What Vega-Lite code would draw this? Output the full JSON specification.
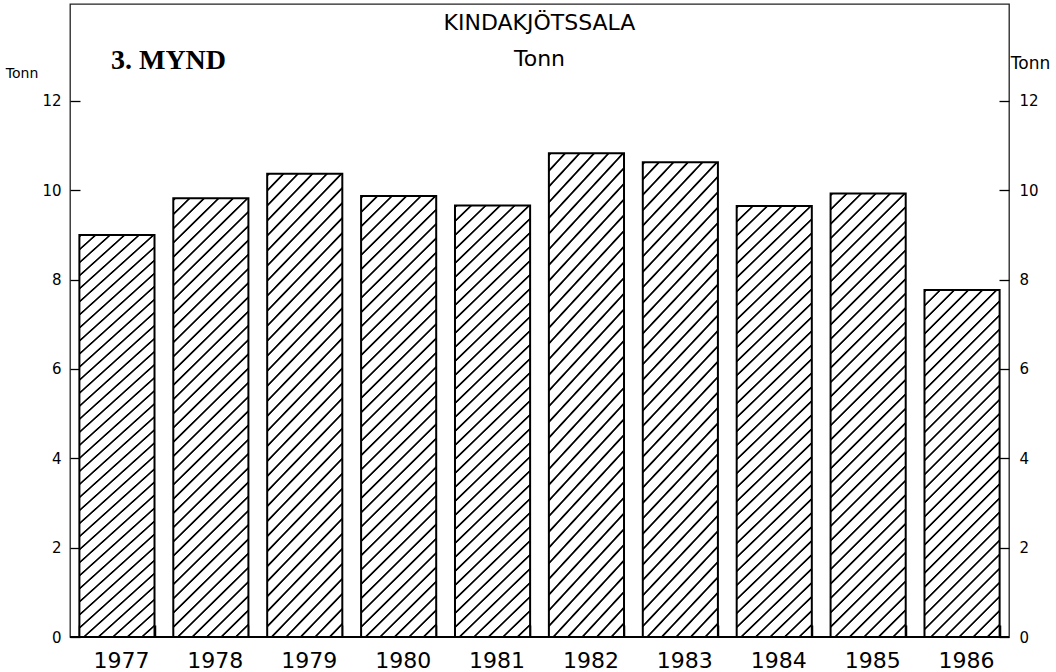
{
  "$schema": "https://vega.github.io/schema/vega-lite/v6.json",
  "width": 939,
  "height": 633,
  "autosize": "none",
  "padding": {"left": 70, "top": 4, "right": 47, "bottom": 35},
  "background": "white",
  "config": {"view": {"stroke": "#222", "strokeWidth": 1.3}, "font": "DejaVu Sans"},
  "title": {
    "text": "KINDAKJÖTSSALA",
    "subtitle": "Tonn",
    "anchor": "middle",
    "font": "DejaVu Sans",
    "fontSize": 22,
    "fontWeight": "normal",
    "color": "#000",
    "subtitleFont": "DejaVu Sans",
    "subtitleFontSize": 22,
    "subtitleColor": "#000",
    "subtitlePadding": 14,
    "offset": -67
  },
  "data": {
    "values": [
      {"year": "1977", "tonn": 9.0},
      {"year": "1978", "tonn": 9.82},
      {"year": "1979", "tonn": 10.37},
      {"year": "1980", "tonn": 9.87},
      {"year": "1981", "tonn": 9.66},
      {"year": "1982", "tonn": 10.83},
      {"year": "1983", "tonn": 10.63},
      {"year": "1984", "tonn": 9.65},
      {"year": "1985", "tonn": 9.93},
      {"year": "1986", "tonn": 7.77}
    ]
  },
  "layer": [
    {
      "mark": {"type": "bar", "stroke": "#000", "strokeWidth": 2},
      "encoding": {
        "x": {
          "field": "year",
          "type": "ordinal",
          "scale": {"paddingInner": 0.2, "paddingOuter": 0.1},
          "axis": {
            "title": "3. MYND",
            "titleX": 98,
            "titleY": -577,
            "titleAlign": "center",
            "titleBaseline": "middle",
            "titleFont": "Liberation Serif",
            "titleFontSize": 28,
            "titleFontWeight": "bold",
            "titleColor": "#000",
            "labelAngle": 0,
            "labelFont": "DejaVu Sans",
            "labelFontSize": 22,
            "labelColor": "#000",
            "labelPadding": 25,
            "labelOffset": 4,
            "tickBand": "extent",
            "tickSize": -12,
            "tickColor": "#000",
            "tickWidth": 1.5,
            "domain": false,
            "grid": false
          }
        },
        "y": {
          "field": "tonn",
          "type": "quantitative",
          "scale": {"domain": [0, 14.17], "nice": false},
          "axis": {
            "orient": "left",
            "values": [0, 2, 4, 6, 8, 10, 12],
            "title": "Tonn",
            "titleAngle": 0,
            "titleX": -48.5,
            "titleY": 69,
            "titleAlign": "center",
            "titleBaseline": "middle",
            "titleFont": "DejaVu Sans",
            "titleFontSize": 14,
            "titleFontWeight": "normal",
            "titleColor": "#000",
            "labelFont": "DejaVu Sans",
            "labelFontSize": 15,
            "labelColor": "#000",
            "labelPadding": 19,
            "tickSize": -10,
            "tickColor": "#000",
            "tickWidth": 1.3,
            "domain": false,
            "grid": false
          }
        },
        "fill": {
          "condition": {
            "test": "datum.year === '1986'",
            "value": {
              "gradient": "linear",
              "x1": 0.251, "y1": 1.162, "x2": 0, "y2": 0,
              "stops": [
                {"offset": 0, "color": "#fff"}, {"offset": 0.025, "color": "#fff"}, {"offset": 0.027667, "color": "#000"}, {"offset": 0.030667, "color": "#000"},
                {"offset": 0.033333, "color": "#fff"}, {"offset": 0.058333, "color": "#fff"}, {"offset": 0.061, "color": "#000"}, {"offset": 0.064, "color": "#000"},
                {"offset": 0.066667, "color": "#fff"}, {"offset": 0.091667, "color": "#fff"}, {"offset": 0.094334, "color": "#000"}, {"offset": 0.097334, "color": "#000"},
                {"offset": 0.1, "color": "#fff"}, {"offset": 0.125, "color": "#fff"}, {"offset": 0.127667, "color": "#000"}, {"offset": 0.130667, "color": "#000"},
                {"offset": 0.133333, "color": "#fff"}, {"offset": 0.158333, "color": "#fff"}, {"offset": 0.161, "color": "#000"}, {"offset": 0.164, "color": "#000"},
                {"offset": 0.166667, "color": "#fff"}, {"offset": 0.191667, "color": "#fff"}, {"offset": 0.194334, "color": "#000"}, {"offset": 0.197334, "color": "#000"},
                {"offset": 0.2, "color": "#fff"}, {"offset": 0.225, "color": "#fff"}, {"offset": 0.227667, "color": "#000"}, {"offset": 0.230667, "color": "#000"},
                {"offset": 0.233333, "color": "#fff"}, {"offset": 0.258333, "color": "#fff"}, {"offset": 0.261, "color": "#000"}, {"offset": 0.264, "color": "#000"},
                {"offset": 0.266667, "color": "#fff"}, {"offset": 0.291667, "color": "#fff"}, {"offset": 0.294334, "color": "#000"}, {"offset": 0.297334, "color": "#000"},
                {"offset": 0.3, "color": "#fff"}, {"offset": 0.325, "color": "#fff"}, {"offset": 0.327667, "color": "#000"}, {"offset": 0.330667, "color": "#000"},
                {"offset": 0.333333, "color": "#fff"}, {"offset": 0.358333, "color": "#fff"}, {"offset": 0.361, "color": "#000"}, {"offset": 0.364, "color": "#000"},
                {"offset": 0.366667, "color": "#fff"}, {"offset": 0.391667, "color": "#fff"}, {"offset": 0.394334, "color": "#000"}, {"offset": 0.397334, "color": "#000"},
                {"offset": 0.4, "color": "#fff"}, {"offset": 0.425, "color": "#fff"}, {"offset": 0.427667, "color": "#000"}, {"offset": 0.430667, "color": "#000"},
                {"offset": 0.433333, "color": "#fff"}, {"offset": 0.458333, "color": "#fff"}, {"offset": 0.461, "color": "#000"}, {"offset": 0.464, "color": "#000"},
                {"offset": 0.466667, "color": "#fff"}, {"offset": 0.491667, "color": "#fff"}, {"offset": 0.494334, "color": "#000"}, {"offset": 0.497334, "color": "#000"},
                {"offset": 0.5, "color": "#fff"}, {"offset": 0.525, "color": "#fff"}, {"offset": 0.527667, "color": "#000"}, {"offset": 0.530667, "color": "#000"},
                {"offset": 0.533333, "color": "#fff"}, {"offset": 0.558333, "color": "#fff"}, {"offset": 0.561, "color": "#000"}, {"offset": 0.564, "color": "#000"},
                {"offset": 0.566667, "color": "#fff"}, {"offset": 0.591667, "color": "#fff"}, {"offset": 0.594334, "color": "#000"}, {"offset": 0.597334, "color": "#000"},
                {"offset": 0.6, "color": "#fff"}, {"offset": 0.625, "color": "#fff"}, {"offset": 0.627667, "color": "#000"}, {"offset": 0.630667, "color": "#000"},
                {"offset": 0.633333, "color": "#fff"}, {"offset": 0.658333, "color": "#fff"}, {"offset": 0.661, "color": "#000"}, {"offset": 0.664, "color": "#000"},
                {"offset": 0.666667, "color": "#fff"}, {"offset": 0.691667, "color": "#fff"}, {"offset": 0.694334, "color": "#000"}, {"offset": 0.697334, "color": "#000"},
                {"offset": 0.7, "color": "#fff"}, {"offset": 0.725, "color": "#fff"}, {"offset": 0.727667, "color": "#000"}, {"offset": 0.730667, "color": "#000"},
                {"offset": 0.733333, "color": "#fff"}, {"offset": 0.758333, "color": "#fff"}, {"offset": 0.761, "color": "#000"}, {"offset": 0.764, "color": "#000"},
                {"offset": 0.766667, "color": "#fff"}, {"offset": 0.791667, "color": "#fff"}, {"offset": 0.794334, "color": "#000"}, {"offset": 0.797334, "color": "#000"},
                {"offset": 0.8, "color": "#fff"}, {"offset": 0.825, "color": "#fff"}, {"offset": 0.827667, "color": "#000"}, {"offset": 0.830667, "color": "#000"},
                {"offset": 0.833333, "color": "#fff"}, {"offset": 0.858333, "color": "#fff"}, {"offset": 0.861, "color": "#000"}, {"offset": 0.864, "color": "#000"},
                {"offset": 0.866667, "color": "#fff"}, {"offset": 0.891667, "color": "#fff"}, {"offset": 0.894334, "color": "#000"}, {"offset": 0.897334, "color": "#000"},
                {"offset": 0.9, "color": "#fff"}, {"offset": 0.925, "color": "#fff"}, {"offset": 0.927667, "color": "#000"}, {"offset": 0.930667, "color": "#000"},
                {"offset": 0.933333, "color": "#fff"}, {"offset": 0.958333, "color": "#fff"}, {"offset": 0.961, "color": "#000"}, {"offset": 0.964, "color": "#000"},
                {"offset": 0.966667, "color": "#fff"}, {"offset": 0.991667, "color": "#fff"}, {"offset": 0.994334, "color": "#000"}, {"offset": 0.997334, "color": "#000"},
                {"offset": 1, "color": "#fff"}
              ]
            }
          },
          "value": {
            "gradient": "linear",
            "x1": 0.191, "y1": 1.136, "x2": 0, "y2": 0,
            "stops": [
              {"offset": 0, "color": "#fff"}, {"offset": 0.020833, "color": "#fff"}, {"offset": 0.023056, "color": "#000"}, {"offset": 0.025556, "color": "#000"},
              {"offset": 0.027778, "color": "#fff"}, {"offset": 0.048611, "color": "#fff"}, {"offset": 0.050834, "color": "#000"}, {"offset": 0.053334, "color": "#000"},
              {"offset": 0.055556, "color": "#fff"}, {"offset": 0.076389, "color": "#fff"}, {"offset": 0.078612, "color": "#000"}, {"offset": 0.081112, "color": "#000"},
              {"offset": 0.083333, "color": "#fff"}, {"offset": 0.104166, "color": "#fff"}, {"offset": 0.106389, "color": "#000"}, {"offset": 0.108889, "color": "#000"},
              {"offset": 0.111111, "color": "#fff"}, {"offset": 0.131944, "color": "#fff"}, {"offset": 0.134167, "color": "#000"}, {"offset": 0.136667, "color": "#000"},
              {"offset": 0.138889, "color": "#fff"}, {"offset": 0.159722, "color": "#fff"}, {"offset": 0.161945, "color": "#000"}, {"offset": 0.164445, "color": "#000"},
              {"offset": 0.166667, "color": "#fff"}, {"offset": 0.1875, "color": "#fff"}, {"offset": 0.189723, "color": "#000"}, {"offset": 0.192223, "color": "#000"},
              {"offset": 0.194444, "color": "#fff"}, {"offset": 0.215277, "color": "#fff"}, {"offset": 0.2175, "color": "#000"}, {"offset": 0.22, "color": "#000"},
              {"offset": 0.222222, "color": "#fff"}, {"offset": 0.243055, "color": "#fff"}, {"offset": 0.245278, "color": "#000"}, {"offset": 0.247778, "color": "#000"},
              {"offset": 0.25, "color": "#fff"}, {"offset": 0.270833, "color": "#fff"}, {"offset": 0.273056, "color": "#000"}, {"offset": 0.275556, "color": "#000"},
              {"offset": 0.277778, "color": "#fff"}, {"offset": 0.298611, "color": "#fff"}, {"offset": 0.300834, "color": "#000"}, {"offset": 0.303334, "color": "#000"},
              {"offset": 0.305556, "color": "#fff"}, {"offset": 0.326389, "color": "#fff"}, {"offset": 0.328612, "color": "#000"}, {"offset": 0.331112, "color": "#000"},
              {"offset": 0.333333, "color": "#fff"}, {"offset": 0.354166, "color": "#fff"}, {"offset": 0.356389, "color": "#000"}, {"offset": 0.358889, "color": "#000"},
              {"offset": 0.361111, "color": "#fff"}, {"offset": 0.381944, "color": "#fff"}, {"offset": 0.384167, "color": "#000"}, {"offset": 0.386667, "color": "#000"},
              {"offset": 0.388889, "color": "#fff"}, {"offset": 0.409722, "color": "#fff"}, {"offset": 0.411945, "color": "#000"}, {"offset": 0.414445, "color": "#000"},
              {"offset": 0.416667, "color": "#fff"}, {"offset": 0.4375, "color": "#fff"}, {"offset": 0.439723, "color": "#000"}, {"offset": 0.442223, "color": "#000"},
              {"offset": 0.444444, "color": "#fff"}, {"offset": 0.465277, "color": "#fff"}, {"offset": 0.4675, "color": "#000"}, {"offset": 0.47, "color": "#000"},
              {"offset": 0.472222, "color": "#fff"}, {"offset": 0.493055, "color": "#fff"}, {"offset": 0.495278, "color": "#000"}, {"offset": 0.497778, "color": "#000"},
              {"offset": 0.5, "color": "#fff"}, {"offset": 0.520833, "color": "#fff"}, {"offset": 0.523056, "color": "#000"}, {"offset": 0.525556, "color": "#000"},
              {"offset": 0.527778, "color": "#fff"}, {"offset": 0.548611, "color": "#fff"}, {"offset": 0.550834, "color": "#000"}, {"offset": 0.553334, "color": "#000"},
              {"offset": 0.555556, "color": "#fff"}, {"offset": 0.576389, "color": "#fff"}, {"offset": 0.578612, "color": "#000"}, {"offset": 0.581112, "color": "#000"},
              {"offset": 0.583333, "color": "#fff"}, {"offset": 0.604166, "color": "#fff"}, {"offset": 0.606389, "color": "#000"}, {"offset": 0.608889, "color": "#000"},
              {"offset": 0.611111, "color": "#fff"}, {"offset": 0.631944, "color": "#fff"}, {"offset": 0.634167, "color": "#000"}, {"offset": 0.636667, "color": "#000"},
              {"offset": 0.638889, "color": "#fff"}, {"offset": 0.659722, "color": "#fff"}, {"offset": 0.661945, "color": "#000"}, {"offset": 0.664445, "color": "#000"},
              {"offset": 0.666667, "color": "#fff"}, {"offset": 0.6875, "color": "#fff"}, {"offset": 0.689723, "color": "#000"}, {"offset": 0.692223, "color": "#000"},
              {"offset": 0.694444, "color": "#fff"}, {"offset": 0.715277, "color": "#fff"}, {"offset": 0.7175, "color": "#000"}, {"offset": 0.72, "color": "#000"},
              {"offset": 0.722222, "color": "#fff"}, {"offset": 0.743055, "color": "#fff"}, {"offset": 0.745278, "color": "#000"}, {"offset": 0.747778, "color": "#000"},
              {"offset": 0.75, "color": "#fff"}, {"offset": 0.770833, "color": "#fff"}, {"offset": 0.773056, "color": "#000"}, {"offset": 0.775556, "color": "#000"},
              {"offset": 0.777778, "color": "#fff"}, {"offset": 0.798611, "color": "#fff"}, {"offset": 0.800834, "color": "#000"}, {"offset": 0.803334, "color": "#000"},
              {"offset": 0.805556, "color": "#fff"}, {"offset": 0.826389, "color": "#fff"}, {"offset": 0.828612, "color": "#000"}, {"offset": 0.831112, "color": "#000"},
              {"offset": 0.833333, "color": "#fff"}, {"offset": 0.854166, "color": "#fff"}, {"offset": 0.856389, "color": "#000"}, {"offset": 0.858889, "color": "#000"},
              {"offset": 0.861111, "color": "#fff"}, {"offset": 0.881944, "color": "#fff"}, {"offset": 0.884167, "color": "#000"}, {"offset": 0.886667, "color": "#000"},
              {"offset": 0.888889, "color": "#fff"}, {"offset": 0.909722, "color": "#fff"}, {"offset": 0.911945, "color": "#000"}, {"offset": 0.914445, "color": "#000"},
              {"offset": 0.916667, "color": "#fff"}, {"offset": 0.9375, "color": "#fff"}, {"offset": 0.939723, "color": "#000"}, {"offset": 0.942223, "color": "#000"},
              {"offset": 0.944444, "color": "#fff"}, {"offset": 0.965277, "color": "#fff"}, {"offset": 0.9675, "color": "#000"}, {"offset": 0.97, "color": "#000"},
              {"offset": 0.972222, "color": "#fff"}, {"offset": 0.993055, "color": "#fff"}, {"offset": 0.995278, "color": "#000"}, {"offset": 0.997778, "color": "#000"},
              {"offset": 1, "color": "#fff"}
            ]
          }
        }
      }
    },
    {
      "mark": {"type": "rule", "stroke": "#000", "strokeWidth": 2.2},
      "encoding": {
        "y": {
          "datum": 0,
          "type": "quantitative",
          "axis": {
            "orient": "right",
            "values": [0, 2, 4, 6, 8, 10, 12],
            "title": "Tonn",
            "titleAngle": 0,
            "titleX": 21,
            "titleY": 59,
            "titleAlign": "center",
            "titleBaseline": "middle",
            "titleFont": "DejaVu Sans",
            "titleFontSize": 17,
            "titleFontWeight": "normal",
            "titleColor": "#000",
            "labelFont": "DejaVu Sans",
            "labelFontSize": 15,
            "labelColor": "#000",
            "labelPadding": 20,
            "tickSize": -10,
            "tickColor": "#000",
            "tickWidth": 1.3,
            "domain": false,
            "grid": false
          }
        }
      }
    }
  ],
  "resolve": {"axis": {"y": "independent"}}
}
